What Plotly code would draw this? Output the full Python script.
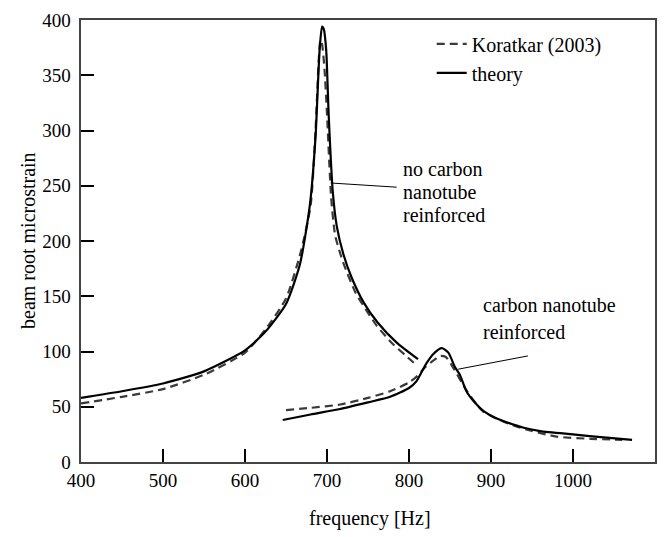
import plotly.graph_objects as go

# Beam root microstrain vs. excitation frequency
# Koratkar (2003) measurements (dashed) and theory (solid)

# --- no carbon nanotube reinforcement ---
plain_theory_f = [400, 450, 500, 550, 600, 625, 650, 667, 679, 686, 691, 694, 696, 699, 702,
                  707, 712, 720, 730, 745, 762, 785, 811]
plain_theory_s = [58, 64, 71, 82, 101, 118, 143, 179, 232, 294, 373, 394, 392, 373, 315,
                  245, 213, 188, 167, 144, 126, 108, 93]

plain_exp_f = [400, 450, 500, 550, 600, 625, 650, 668, 680, 686, 690, 692, 694, 697, 700,
               705, 710, 720, 735, 750, 761, 780, 795, 807]
plain_exp_s = [53, 59, 66, 79, 99, 120, 148, 190, 232, 300, 365, 382, 378, 355, 315,
               240, 205, 180, 153, 135, 123, 107, 97, 89]

# --- carbon nanotube reinforced ---
cnt_theory_f = [646, 680, 716, 750, 777, 800, 809, 821, 830, 840, 848, 856, 862, 870, 880,
                891, 905, 919, 940, 960, 1000, 1041, 1072]
cnt_theory_s = [38, 43, 48, 54, 59, 67, 73, 89, 98, 103, 99, 86, 79, 64, 54,
                46, 40, 36, 31, 28, 25, 22, 20]

cnt_exp_f = [650, 680, 716, 750, 777, 800, 809, 820, 830, 838, 845, 855, 870, 890, 920,
             950, 980, 1021, 1060]
cnt_exp_s = [47, 49, 52, 58, 64, 72, 77, 86, 92, 96, 95, 84, 65, 46, 35,
             28, 23, 21, 20]

x_ticks = [400, 500, 600, 700, 800, 900, 1000, 1100]
y_ticks = [0, 50, 100, 150, 200, 250, 300, 350, 400]
# trailing no-break space keeps the y labels clear of the axis
y_tick_text = [f"{v}\u00a0" for v in y_ticks]

SERIF = "Times New Roman, Liberation Serif, DejaVu Serif, serif"
DASH_COLOR = "#3a3a3a"

fig = go.Figure()

dash_line = dict(color=DASH_COLOR, width=2.2, dash="8px,5px", shape="spline", smoothing=0.6)
solid_line = dict(color="black", width=2.2, shape="spline", smoothing=0.6)

fig.add_trace(go.Scatter(x=plain_exp_f, y=plain_exp_s, mode="lines", name="Koratkar (2003)",
                         line=dash_line, legendgroup="exp"))
fig.add_trace(go.Scatter(x=plain_theory_f, y=plain_theory_s, mode="lines", name="theory",
                         line=solid_line, legendgroup="th"))
fig.add_trace(go.Scatter(x=cnt_exp_f, y=cnt_exp_s, mode="lines", name="Koratkar (2003)",
                         line=dash_line, legendgroup="exp", showlegend=False))
fig.add_trace(go.Scatter(x=cnt_theory_f, y=cnt_theory_s, mode="lines", name="theory",
                         line=solid_line, legendgroup="th", showlegend=False))

# leader lines from the labels to the curves
fig.add_shape(type="line", x0=704.5, y0=252.5, x1=785, y1=248.7,
              line=dict(color="black", width=1))
fig.add_shape(type="line", x0=860, y0=84, x1=945, y1=96,
              line=dict(color="black", width=1))

label_font = dict(family=SERIF, size=20, color="black")
for txt, yv in [("no carbon", 265.5), ("nanotube", 244.3), ("reinforced", 223.9)]:
    fig.add_annotation(x=790, y=yv, text=txt, showarrow=False, xanchor="left",
                       yanchor="middle", font=label_font)
for txt, yv in [("carbon nanotube", 142), ("reinforced", 117.6)]:
    fig.add_annotation(x=888, y=yv, text=txt, showarrow=False, xanchor="left",
                       yanchor="middle", font=label_font)

# axis titles
fig.add_annotation(xref="paper", yref="paper", x=(370 - 81) / 574, y=-(520 - 462) / 452,
                   text="frequency [Hz]", showarrow=False, xanchor="center",
                   yanchor="middle", font=label_font)
fig.add_annotation(xref="paper", yref="paper", x=-(81 - 28) / 574, y=0.5,
                   text="beam root microstrain", showarrow=False, textangle=-90,
                   xanchor="center", yanchor="middle", font=label_font)

axis_common = dict(showgrid=False, zeroline=False, showline=True, linecolor="#444",
                   linewidth=1.5, mirror=True, ticks="inside", ticklen=13,
                   tickcolor="black", tickwidth=1.5,
                   tickfont=dict(family=SERIF, size=19, color="black"))

fig.update_layout(
    width=668, height=537,
    margin=dict(l=81, r=13, t=10, b=75),
    paper_bgcolor="white", plot_bgcolor="white",
    font=dict(family=SERIF),
    xaxis=dict(range=[400, 1100], tickvals=x_ticks, **axis_common),
    yaxis=dict(range=[0, 400], tickvals=y_ticks, ticktext=y_tick_text, **axis_common),
    legend=dict(x=0.611, y=0.99, xanchor="left", yanchor="top",
                bgcolor="rgba(0,0,0,0)", font=dict(family=SERIF, size=20, color="black"),
                tracegroupgap=0, itemwidth=30),
    showlegend=True,
)

fig.write_html("out.html")
